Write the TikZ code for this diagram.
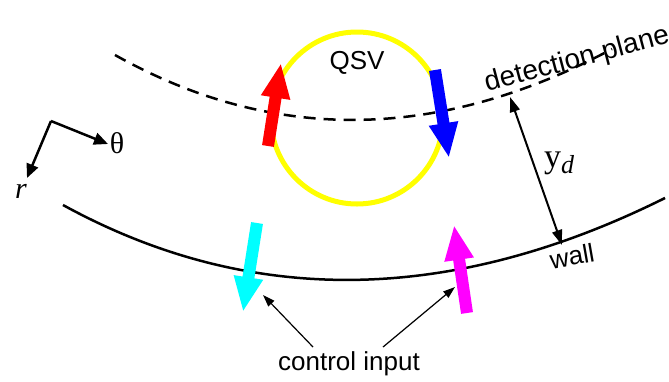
\documentclass[tikz,border=0pt]{standalone}
\usepackage{fontspec}
\setmainfont{Liberation Serif}
\setsansfont{Liberation Sans}
\usetikzlibrary{arrows.meta}
\definecolor{qyellow}{RGB}{255,255,0}
\definecolor{qcyan}{RGB}{0,255,255}
\definecolor{qmagenta}{RGB}{255,0,255}
\definecolor{qred}{RGB}{255,0,0}
\definecolor{qblue}{RGB}{0,0,255}
\tikzset{
  sanslbl/.style={font=\sffamily\fontsize{26}{28}\selectfont, inner sep=0pt},
  bigarrow/.style={line width=12pt, -{Triangle[length=35pt,width=27pt]}},
  thinarrow/.style={line width=1.2pt, -{Triangle[length=12pt,width=8pt]}},
  dblarrow/.style={line width=2pt, {Triangle[length=15pt,width=10pt]}-{Triangle[length=15pt,width=10pt]}},
  axisarrow/.style={line width=2.5pt, -{Triangle[length=14pt,width=12pt]}},
}
\begin{document}
\begin{tikzpicture}[x=1pt,y=-1pt]
\useasboundingbox (0,0) rectangle (669,381);
% vortex circle
\draw[qyellow, line width=5pt] (357,118) circle[radius=86];
% detection plane
\draw[line width=2.5pt, dash pattern=on 12pt off 8pt] (115,55) .. controls (272,143) and (438,142) .. (612,49);
% wall
\draw[line width=2.5pt] (63,205) .. controls (249,307) and (450,305) .. (665,198);
% vortex arrows
\draw[bigarrow, qred] (268,146) -- (281,63);
\draw[bigarrow, qblue] (435,70) -- (449,158);
% control arrows
\draw[bigarrow, qcyan] (257,223) -- (243,312);
\draw[bigarrow, qmagenta] (467,313) -- (454,225);
% labels
\node[sanslbl] (qsv) at (357,63) {QSV};
\node[sanslbl, font=\sffamily\fontsize{28}{30}\selectfont, rotate=15, anchor=base west] (dp) at (487,92) {detection plane};
\node[sanslbl, rotate=10] (wall) at (572,256) {wall};
\node[sanslbl] (ci) at (349,364) {control input};
% y_d
\coordinate (dtop) at (510,97);
\coordinate (dbot) at (562,245);
\draw[dblarrow] (dtop) -- (dbot);
\node[inner sep=0pt] (yd) at (559,163) {\fontsize{34}{36}\selectfont y\raisebox{-6pt}{\fontsize{26}{28}\selectfont\itshape d}};
% control input pointers
\coordinate (c1s) at (313,347);
\coordinate (c1e) at (263,295);
\coordinate (c2s) at (383,347);
\coordinate (c2e) at (455,287);
\draw[thinarrow] (c1s) -- (c1e);
\draw[thinarrow] (c2s) -- (c2e);
% axes
\coordinate (o) at (51,121);
\coordinate (th) at (108,144);
\coordinate (rr) at (27,178);
\draw[axisarrow] (o) -- (th);
\draw[axisarrow] (o) -- (rr);
\node[inner sep=0pt, font=\fontsize{30}{32}\selectfont] (thl) at (117,143) {θ};
\node[inner sep=0pt, font=\fontsize{30}{32}\selectfont\itshape] (rl) at (21,191) {r};
\end{tikzpicture}
\end{document}
